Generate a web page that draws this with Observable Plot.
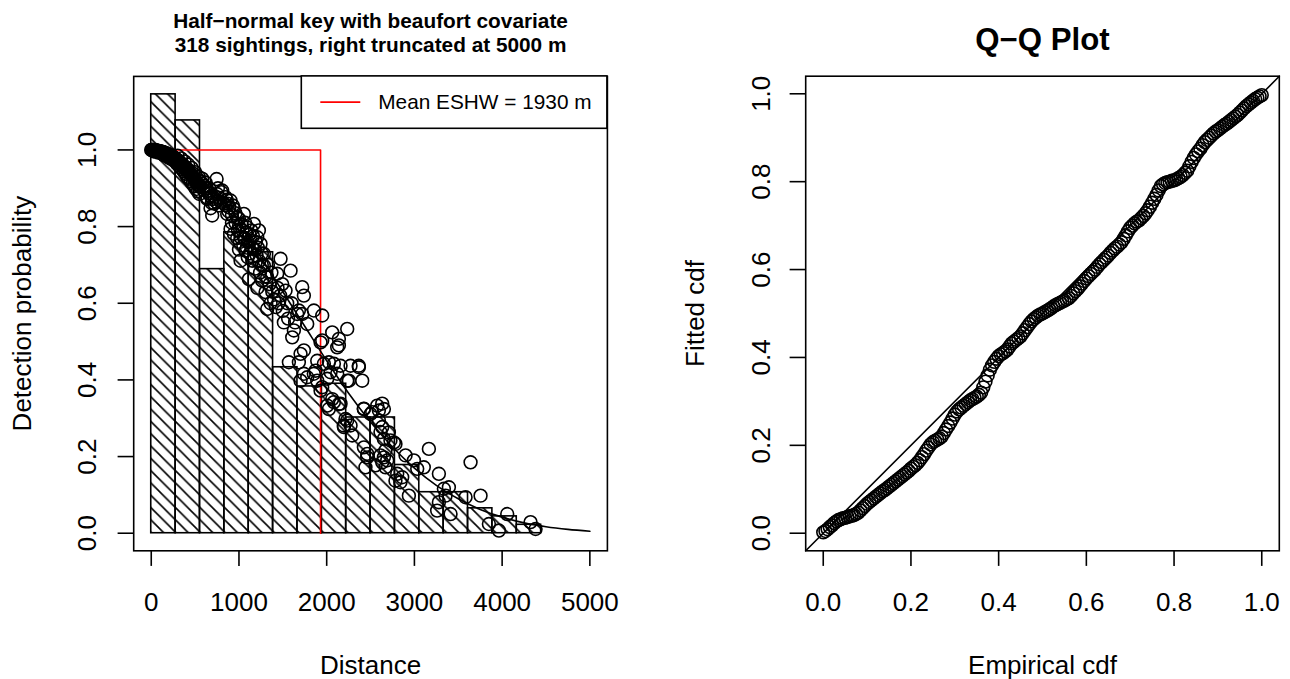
<!DOCTYPE html>
<html><head><meta charset="utf-8">
<script src="https://cdn.jsdelivr.net/npm/d3@7"></script>
<script src="https://cdn.jsdelivr.net/npm/@observablehq/plot@0.6"></script>
<style>
body{margin:0;background:#fff;}
#wrap{position:relative;width:1290px;height:679px;overflow:hidden;background:#fff;}
#left,#right{position:absolute;top:0;}
#left{left:0}#right{left:645px}
</style></head><body><div id="wrap"><div id="left"></div><div id="right"></div></div>
<script>
// ---------------- data ----------------
const truncation = 5000;
const eshw = 1930;
const binHeights = [1.145, 1.077, 0.689, 0.785, 0.733, 0.433, 0.383, 0.39, 0.302, 0.302, 0.178, 0.107, 0.107, 0.065, 0.044, 0.022, 0, 0];
const fitDist = [0, 250, 500, 750, 1000, 1250, 1500, 1750, 2000, 2250, 2500, 2750, 3000, 3250, 3500, 3750, 4000, 4250, 4500, 4750, 5000];
const fitProb = [1.0, 0.99, 0.955, 0.89, 0.815, 0.72, 0.63, 0.54, 0.45, 0.365, 0.29, 0.225, 0.17, 0.125, 0.09, 0.062, 0.042, 0.027, 0.017, 0.01, 0.005];
// sightings: [distance, detection probability]
const sightings = [
 [0,1],[5,1],[12,1],[20,1],[28,1],[36,0.999],[44,0.999],[52,0.999],[60,0.998],[68,0.998],[76,0.998],[84,0.997],[92,0.997],[100,0.997],[110,0.996],[120,0.995],[130,0.995],[140,0.994],[150,0.993],[160,0.992],[170,0.991],[180,0.99],[190,0.989],[200,0.988],[210,0.987],[220,0.986],[230,0.985],[240,0.983],[250,0.982],[260,0.98],[270,0.978],[30,0.996],[80,0.993],[130,0.989],[180,0.984],[220,0.978],[260,0.972],[150,0.986],[200,0.98],[240,0.975],
 [280,0.977],[290,0.975],[300,0.973],[310,0.971],[320,0.969],[330,0.967],[340,0.965],[350,0.963],[360,0.961],[370,0.958],[380,0.956],[390,0.953],[400,0.951],[410,0.948],[420,0.945],[430,0.943],[440,0.94],[450,0.937],[460,0.934],[470,0.931],[480,0.928],[490,0.925],[500,0.922],[510,0.918],[520,0.915],[530,0.911],[540,0.908],[550,0.904],
 [290,0.965],[310,0.96],[330,0.955],[350,0.95],[370,0.944],[390,0.938],[410,0.93],[430,0.925],[450,0.918],[470,0.912],[490,0.905],[510,0.898],[530,0.892],[550,0.885],[300,0.985],[340,0.978],[380,0.97],[420,0.962],[460,0.953],[500,0.942],[540,0.93],
 [560,0.918],[580,0.912],[600,0.906],[620,0.9],[640,0.893],[660,0.886],[680,0.879],[700,0.872],[560,0.905],[600,0.895],[620,0.915],[640,0.875],[660,0.9],[690,0.862],[720,0.88],[740,0.865],[760,0.9],[780,0.875],[800,0.89],[830,0.86],[745,0.924],[676,0.848],[695,0.829],[638,0.872],[809,0.894],[771,0.855],[580,0.925],[720,0.86],[750,0.885],[790,0.865],
 [847,0.877],[904,0.868],[942,0.846],[866,0.833],[980,0.824],[1056,0.833],[1094,0.798],[1018,0.772],[904,0.794],[942,0.781],[1075,0.737],[1018,0.711],[860,0.87],[890,0.85],[960,0.81],[1000,0.8],[1040,0.79],[1060,0.77],[1100,0.76],[1100,0.72],[1050,0.75],[1000,0.74],[980,0.77],[850,0.855],[880,0.84],[920,0.83],[930,0.855],[960,0.835],[1000,0.82],[1030,0.805],[1070,0.81],[1080,0.785],[920,0.81],[1010,0.76],[1090,0.745],[870,0.86],[990,0.79],
 [1170,0.807],[1227,0.79],[1208,0.772],[1132,0.763],[1246,0.755],[1284,0.729],[1151,0.711],[1113,0.663],[1284,0.698],[1322,0.668],[1265,0.659],[1303,0.629],[1322,0.585],[1120,0.78],[1150,0.745],[1180,0.74],[1200,0.725],[1230,0.71],[1260,0.7],[1180,0.69],[1240,0.68],[1350,0.65],[1380,0.63],[1360,0.6],[1300,0.67],[1210,0.64],[1140,0.79],[1190,0.76],[1260,0.73],[1330,0.7],[1370,0.68],[1125,0.73],[1160,0.775],[1215,0.745],
 [1474,0.716],[1588,0.685],[1436,0.677],[1493,0.65],[1531,0.633],[1664,0.572],[1512,0.55],[1626,0.529],[1607,0.511],[1569,0.446],[1400,0.61],[1420,0.59],[1450,0.6],[1500,0.58],[1550,0.6],[1440,0.64],[1600,0.6],[1640,0.55],[1470,0.62],[1560,0.56],
 [1721,0.642],[1740,0.62],[1683,0.581],[1721,0.572],[1854,0.581],[1778,0.546],[1740,0.477],[1702,0.468],[1683,0.446],[1892,0.45],[1702,0.398],[1740,0.416],[1873,0.424],[1892,0.398],[1853,0.416],[1778,0.407],[1930,0.372],[1930,0.498],
 [1949,0.568],[2063,0.524],[2139,0.507],[1949,0.503],[2120,0.485],[1968,0.442],[2025,0.446],[2082,0.442],[2158,0.437],[2044,0.42],[1949,0.381],[2063,0.35],[2139,0.337],[2025,0.324],[2196,0.277],[2120,0.416],[2006,0.403],[2006,0.333],[2082,0.342],[2158,0.338],[2214,0.298],[2195,0.281],[2139,0.49],
 [2234,0.533],[2272,0.437],[2367,0.433],[2234,0.398],[2405,0.398],[2424,0.324],[2234,0.294],[2272,0.281],[2424,0.224],[2462,0.198],[2442,0.172],[2462,0.207],[2423,0.325],[2291,0.255],[2253,0.398],[2366,0.437],
 [2576,0.333],[2652,0.324],[2500,0.311],[2595,0.294],[2633,0.277],[2709,0.263],[2652,0.246],[2766,0.237],[2557,0.177],[2652,0.198],[2690,0.19],[2671,0.172],[2633,0.185],[2613,0.203],[2670,0.216],[2727,0.242],[2519,0.316],[2595,0.32],[2633,0.338],[2613,0.264],
 [2899,0.203],[2994,0.19],[3032,0.168],[2804,0.155],[2861,0.146],[2937,0.098],[2784,0.137],[2841,0.133],[2784,0.233],
 [3165,0.22],[3279,0.155],[3259,0.059],[3279,0.081],[3107,0.172],[3336,0.116],[3393,0.12],[3355,0.098],[3412,0.05],[3583,0.094],[3640,0.185],[3754,0.098],[3849,0.024],[3963,0.007],[4058,0.05],[4324,0.029],[4381,0.011]
];
const distTicks = [0, 1000, 2000, 3000, 4000, 5000];
const probTicks = [0, 0.2, 0.4, 0.6, 0.8, 1.0];
const cdfTicks = [0, 0.2, 0.4, 0.6, 0.8, 1.0];
const empCdf = [0,0.005,0.01,0.015,0.02,0.025,0.03,0.035,0.04,0.045,0.05,0.055,0.06,0.065,0.07,0.075,0.08,0.085,0.09,0.095,
 0.1,0.105,0.11,0.115,0.12,0.125,0.13,0.135,0.14,0.145,0.15,0.155,0.16,0.165,0.17,0.175,0.18,0.185,0.19,0.195,
 0.2,0.205,0.21,0.215,0.22,0.225,0.23,0.235,0.24,0.245,0.25,0.255,0.26,0.265,0.27,0.275,0.28,0.285,0.29,0.295,
 0.3,0.305,0.31,0.315,0.32,0.325,0.33,0.335,0.34,0.345,0.35,0.355,0.36,0.365,0.37,0.375,0.38,0.385,0.39,0.395,
 0.4,0.405,0.41,0.415,0.42,0.425,0.43,0.435,0.44,0.445,0.45,0.455,0.46,0.465,0.47,0.475,0.48,0.485,0.49,0.495,
 0.5,0.505,0.51,0.515,0.52,0.525,0.53,0.535,0.54,0.545,0.55,0.555,0.56,0.565,0.57,0.575,0.58,0.585,0.59,0.595,
 0.6,0.605,0.61,0.615,0.62,0.625,0.63,0.635,0.64,0.645,0.65,0.655,0.66,0.665,0.67,0.675,0.68,0.685,0.69,0.695,
 0.7,0.705,0.71,0.715,0.72,0.725,0.73,0.735,0.74,0.745,0.75,0.755,0.76,0.765,0.77,0.775,0.78,0.785,0.79,0.795,
 0.8,0.805,0.81,0.815,0.82,0.825,0.83,0.835,0.84,0.845,0.85,0.855,0.86,0.865,0.87,0.875,0.88,0.885,0.89,0.895,
 0.9,0.905,0.91,0.915,0.92,0.925,0.93,0.935,0.94,0.945,0.95,0.955,0.96,0.965,0.97,0.975,0.98,0.985,0.99,0.995,1.0];
const fitCdf = [0.002,0.005,0.009,0.014,0.018,0.023,0.027,0.03,0.032,0.034,0.035,0.037,0.038,0.04,0.041,0.044,0.047,0.052,0.057,0.062,
 0.067,0.071,0.075,0.079,0.083,0.087,0.091,0.095,0.098,0.102,0.106,0.11,0.114,0.118,0.122,0.126,0.13,0.134,0.138,0.142,
 0.147,0.151,0.155,0.16,0.166,0.173,0.18,0.188,0.195,0.202,0.207,0.21,0.213,0.216,0.22,0.228,0.236,0.244,0.252,0.261,
 0.27,0.277,0.282,0.286,0.29,0.294,0.298,0.302,0.305,0.308,0.311,0.315,0.32,0.332,0.345,0.359,0.372,0.382,0.39,0.397,
 0.403,0.407,0.41,0.414,0.418,0.425,0.432,0.436,0.44,0.444,0.448,0.455,0.462,0.469,0.476,0.482,0.487,0.491,0.495,0.498,
 0.5,0.503,0.506,0.509,0.512,0.516,0.519,0.522,0.524,0.527,0.529,0.532,0.535,0.54,0.546,0.551,0.556,0.562,0.568,0.574,
 0.58,0.585,0.59,0.595,0.6,0.606,0.612,0.617,0.622,0.627,0.632,0.638,0.643,0.648,0.652,0.657,0.662,0.67,0.678,0.687,
 0.695,0.7,0.705,0.709,0.712,0.717,0.722,0.728,0.735,0.743,0.752,0.761,0.77,0.78,0.79,0.794,0.797,0.799,0.8,0.802,
 0.803,0.805,0.808,0.811,0.815,0.82,0.825,0.835,0.845,0.854,0.862,0.869,0.875,0.883,0.89,0.895,0.9,0.905,0.91,0.914,
 0.917,0.921,0.925,0.929,0.932,0.936,0.94,0.944,0.948,0.952,0.957,0.962,0.967,0.972,0.976,0.98,0.984,0.988,0.991,0.994,0.997];
const qqDiag = [-0.04, 1.04];

// ---------------- build ----------------
const FONT = '"Liberation Sans", Arial, Helvetica, sans-serif';
const BASE = 26;
const binWidth = truncation / binHeights.length;
const bins = binHeights.map((h, i) => ({x1: i * binWidth, x2: (i + 1) * binWidth, h}));
const fitted = fitDist.map((d, i) => ({d, p: fitProb[i]}));
const det = sightings.map(([d, p]) => ({d, p}));
const eshwPath = [{d: 0, p: 1}, {d: eshw, p: 1}, {d: eshw, p: 0}];
const qq = empCdf.map((e, i) => ({e, f: fitCdf[i]}));

const LW = 1.6;
const TICK = 15.6;
const DOT = {r: 6.4, stroke: "black", strokeWidth: 1.6, fill: "none"};
const leftMargins = {marginLeft: 133.2, marginRight: 38.1, marginTop: 75.9, marginBottom: 128.7};
const left = Plot.plot({
  width: 645, height: 679, ...leftMargins,
  style: {fontFamily: FONT, fontSize: BASE + "px", background: "white", color: "black"},
  x: {domain: [-0.04 * truncation, 1.04 * truncation]},
  y: {domain: [-0.04 * 1.146, 1.146 * 1.04]},
  marks: [
    Plot.rect(bins, {x1: "x1", x2: "x2", y1: 0, y2: "h", fill: "url(#hatch)", stroke: "black", strokeWidth: LW}),
    Plot.line(eshwPath, {x: "d", y: "p", stroke: "#ff0000", strokeWidth: LW}),
    Plot.line(fitted, {x: "d", y: "p", stroke: "black", strokeWidth: LW, curve: "monotone-x"}),
    Plot.dot(det, {x: "d", y: "p", ...DOT}),
    Plot.frame({stroke: "black", strokeWidth: LW}),
    Plot.axisX({ticks: distTicks, tickSize: TICK, tickFormat: () => "", label: null, strokeWidth: LW}),
    Plot.axisY({ticks: probTicks, tickSize: TICK, tickFormat: () => "", label: null, strokeWidth: LW}),
    Plot.text(distTicks, {x: d => d, text: d => String(d), frameAnchor: "bottom", dy: 51.4, lineAnchor: "middle", textAnchor: "middle", fontSize: BASE}),
    Plot.text(probTicks, {y: d => d, text: d => d.toFixed(1), frameAnchor: "left", dx: -46, rotate: -90, lineAnchor: "middle", textAnchor: "middle", fontSize: BASE}),
    Plot.text(["Distance"], {frameAnchor: "bottom", dy: 114.9, lineAnchor: "middle", textAnchor: "middle", fontSize: BASE}),
    Plot.text(["Detection probability"], {frameAnchor: "left", dx: -111, rotate: -90, lineAnchor: "middle", textAnchor: "middle", fontSize: BASE}),
    Plot.text(["Half\u2212normal key with beaufort covariate\n318 sightings, right truncated at 5000 m"], {frameAnchor: "top", dy: -44.4, lineAnchor: "middle", textAnchor: "middle", fontWeight: "bold", fontSize: 0.8 * BASE, lineHeight: 1.2})
  ]
});
document.getElementById("left").appendChild(left);

// hatch pattern + legend
const sl = d3.select(left);
const defs = sl.insert("defs", ":first-child");
const hs = 12.3;
defs.append("pattern").attr("id", "hatch").attr("patternUnits", "userSpaceOnUse").attr("width", hs).attr("height", hs)
  .append("path").attr("d", `M0,0L${hs},${hs}M${-hs/4},${hs*0.75}L${hs/4},${hs*1.25}M${hs*0.75},${-hs/4}L${hs*1.25},${hs/4}`)
  .attr("stroke", "black").attr("stroke-width", 1.6).attr("fill", "none");
{
  const fr = 645 - leftMargins.marginRight, ft = leftMargins.marginTop;
  const lw = 305.6, lh = 52.4;
  const g = sl.append("g");
  g.append("rect").attr("x", fr - lw).attr("y", ft).attr("width", lw).attr("height", lh).attr("fill", "white").attr("stroke", "black").attr("stroke-width", LW);
  g.append("line").attr("x1", fr - lw + 19).attr("x2", fr - lw + 59).attr("y1", ft + lh / 2).attr("y2", ft + lh / 2).attr("stroke", "#ff0000").attr("stroke-width", LW);
  g.append("text").attr("x", fr - lw + 77).attr("y", ft + lh / 2).attr("dy", "0.35em").attr("text-anchor", "start").attr("font-size", 0.8 * BASE).attr("font-family", FONT).attr("fill", "black").text(`Mean ESHW = ${eshw} m`);
}

const rightMargins = {marginLeft: 160.2, marginRight: 11.2, marginTop: 75.7, marginBottom: 128.7};
const right = Plot.plot({
  width: 645, height: 679, ...rightMargins,
  style: {fontFamily: FONT, fontSize: BASE + "px", background: "white", color: "black"},
  x: {domain: qqDiag},
  y: {domain: qqDiag},
  marks: [
    Plot.dot(qq, {x: "e", y: "f", ...DOT}),
    Plot.line(qqDiag, {x: d => d, y: d => d, stroke: "black", strokeWidth: LW}),
    Plot.frame({stroke: "black", strokeWidth: LW}),
    Plot.axisX({ticks: cdfTicks, tickSize: TICK, tickFormat: () => "", label: null, strokeWidth: LW}),
    Plot.axisY({ticks: cdfTicks, tickSize: TICK, tickFormat: () => "", label: null, strokeWidth: LW}),
    Plot.text(cdfTicks, {x: d => d, text: d => d.toFixed(1), frameAnchor: "bottom", dy: 51.4, lineAnchor: "middle", textAnchor: "middle", fontSize: BASE}),
    Plot.text(cdfTicks, {y: d => d, text: d => d.toFixed(1), frameAnchor: "left", dx: -44, rotate: -90, lineAnchor: "middle", textAnchor: "middle", fontSize: BASE}),
    Plot.text(["Empirical cdf"], {frameAnchor: "bottom", dy: 114.9, lineAnchor: "middle", textAnchor: "middle", fontSize: BASE}),
    Plot.text(["Fitted cdf"], {frameAnchor: "left", dx: -110, rotate: -90, lineAnchor: "middle", textAnchor: "middle", fontSize: BASE}),
    Plot.text(["Q\u2212Q Plot"], {frameAnchor: "top", dy: -35.7, lineAnchor: "middle", textAnchor: "middle", fontWeight: "bold", fontSize: 1.2 * BASE})
  ]
});
document.getElementById("right").appendChild(right);
</script></body></html>
